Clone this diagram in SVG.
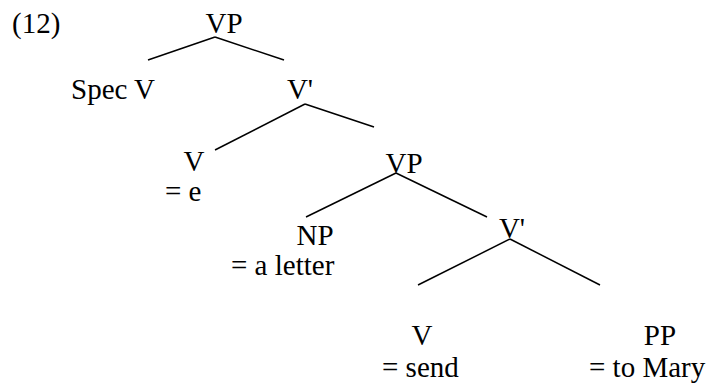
<svg xmlns="http://www.w3.org/2000/svg" width="710" height="383" viewBox="0 0 710 383">
<style>
text{font-family:'Liberation Serif','Times New Roman',serif;font-size:29px;fill:#000}
.c{text-anchor:middle}
line{stroke:#000;stroke-width:1.5;stroke-linecap:butt}
</style>
<rect width="710" height="383" fill="#fff"/>
<text x="12" y="33">(12)</text>
<g id="connectors">
<line x1="215" y1="37" x2="148" y2="60"/>
<line x1="215" y1="37" x2="284" y2="60"/>
<line x1="305" y1="104" x2="215" y2="150"/>
<line x1="305" y1="104" x2="374" y2="127"/>
<line x1="396" y1="173" x2="306" y2="217"/>
<line x1="396" y1="173" x2="487" y2="217"/>
<line x1="510" y1="239" x2="418" y2="285"/>
<line x1="510" y1="239" x2="600" y2="285"/>
</g>
<g id="vp1"><text class="c" x="224" y="33">VP</text></g>
<g id="specv"><text x="71" y="99">Spec V</text></g>
<g id="vbar1"><text class="c" x="300" y="99">V'</text></g>
<g id="v1"><text class="c" x="194" y="171">V</text><text x="165" y="201">= e</text></g>
<g id="vp2"><text class="c" x="404" y="173">VP</text></g>
<g id="np"><text class="c" x="315" y="245">NP</text><text x="231" y="275">= a letter</text></g>
<g id="vbar2"><text class="c" x="512" y="238">V'</text></g>
<g id="v2"><text class="c" x="422" y="345">V</text><text x="382" y="377">= send</text></g>
<g id="pp"><text class="c" x="660" y="345">PP</text><text x="589" y="377">= to Mary</text></g>
</svg>
